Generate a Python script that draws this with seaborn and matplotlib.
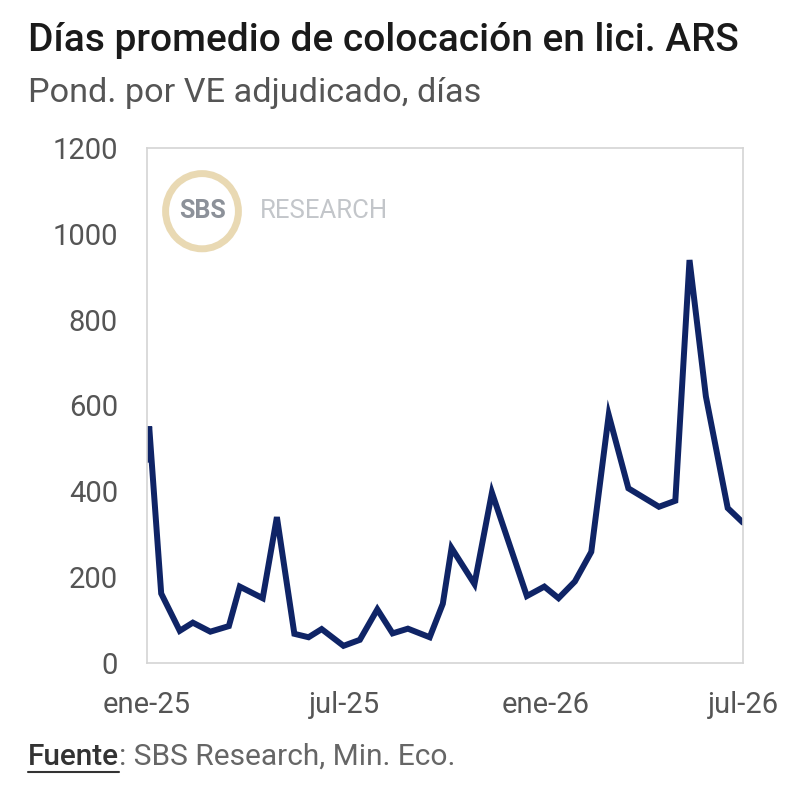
import pandas as pd
import matplotlib.pyplot as plt
from matplotlib.patches import Ellipse
import seaborn as sns

# Data (auction dates and weighted avg days)
fechas = [
    "2025-01-01", "2025-01-03", "2025-01-14", "2025-01-31", "2025-02-12",
    "2025-02-28", "2025-03-17", "2025-03-27", "2025-04-17", "2025-04-30",
    "2025-05-16", "2025-05-29", "2025-06-10", "2025-06-30", "2025-07-15",
    "2025-07-31", "2025-08-14", "2025-08-28", "2025-09-17", "2025-09-29",
    "2025-10-07", "2025-10-28", "2025-11-13", "2025-12-15", "2025-12-31",
    "2026-01-13", "2026-01-28", "2026-02-12", "2026-02-28", "2026-03-18",
    "2026-04-15", "2026-04-30", "2026-05-13", "2026-05-28", "2026-06-17",
    "2026-07-01",
]
dias = [
    473, 551, 162, 75, 94,
    73, 86, 178, 151, 340,
    68, 60, 79, 40, 54,
    125, 69, 80, 60, 138,
    268, 184, 397, 156, 178,
    151, 190, 259, 578, 407,
    364, 378, 939, 621, 361,
    327,
]
tick_fechas = ["2025-01-01", "2025-07-01", "2026-01-01", "2026-07-01"]
tick_labels = ["ene-25", "jul-25", "ene-26", "jul-26"]
y_ticks = [0, 200, 400, 600, 800, 1000, 1200]

df = pd.DataFrame({"fecha": pd.to_datetime(fechas), "dias": dias})

sns.set_theme(style="white")
plt.rcParams["font.family"] = ["Roboto", "DejaVu Sans"]

fig = plt.figure(figsize=(8, 8), dpi=100)
ax = fig.add_axes([0.18375, 0.17125, 0.745, 0.64375])

sns.lineplot(data=df, x="fecha", y="dias", ax=ax, color="#0f2466",
             linewidth=4.3, solid_joinstyle="miter")

ax.set_xlim(pd.Timestamp("2025-01-01"), pd.Timestamp("2026-07-01"))
ax.set_ylim(0, 1200)
ax.set_yticks(y_ticks)
ax.set_xticks(pd.to_datetime(tick_fechas))
ax.set_xticklabels(tick_labels)
ax.set_xlabel("")
ax.set_ylabel("")
ax.tick_params(axis="both", length=0, labelsize=21, labelcolor="#555555")
ax.tick_params(axis="y", pad=21)
ax.tick_params(axis="x", pad=20)
for sp in ax.spines.values():
    sp.set_color("#d4d4d4")
    sp.set_linewidth(1.2)

# watermark
fig.patches.append(Ellipse((0.2525, 0.736), 0.091, 0.094, transform=fig.transFigure,
                           facecolor="none", edgecolor="#e9d9b3", linewidth=5))
fig.text(0.2525, 0.736, "SBS", ha="center", va="center", fontsize=18,
         fontweight="bold", color="#8c9199")
fig.text(0.325, 0.736, "RESEARCH", ha="left", va="center", fontsize=18.5,
         color="#c3c6ca")

fig.text(0.035, 0.949, "Días promedio de colocación en lici. ARS", ha="left",
         va="center", fontsize=28, fontweight="medium", color="#1a1a1a")
fig.text(0.035, 0.884, "Pond. por VE adjudicado, días", ha="left", va="center",
         fontsize=24.7, color="#555555")
t = fig.text(0.035, 0.054, "Fuente", ha="left", va="center", fontsize=21.5,
             fontweight="medium", color="#333333")
fig.canvas.draw()
bb = t.get_window_extent()
fig.text(bb.x1 / 800, 0.054, ": SBS Research, Min. Eco.", ha="left",
         va="center", fontsize=21.5, color="#666666")
fig.add_artist(plt.Line2D([bb.x0 / 800, bb.x1 / 800], [0.035, 0.035],
                          transform=fig.transFigure, color="#333333", linewidth=1.5))

fig.savefig("out.png", dpi=100)
